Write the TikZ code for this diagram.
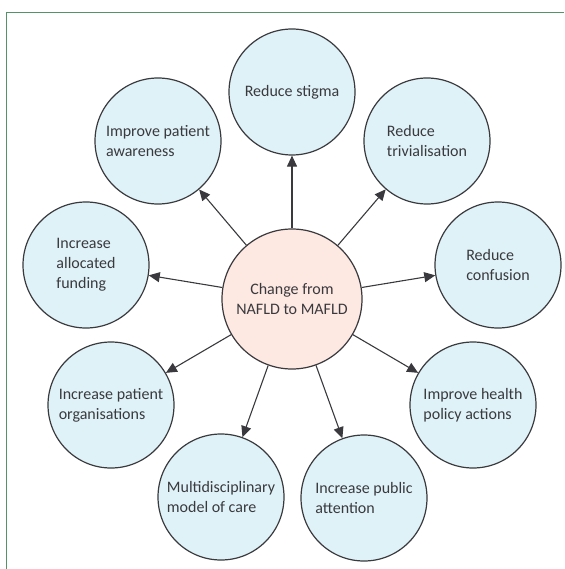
\documentclass[tikz,border=0pt]{standalone}
\usepackage{fontspec}
\setmainfont{Carlito}
\usetikzlibrary{arrows.meta,positioning}
\definecolor{framegreen}{RGB}{84,146,106}
\definecolor{goalfill}{RGB}{223,242,247}
\definecolor{changefill}{RGB}{253,232,226}
\definecolor{inkgrey}{RGB}{58,58,62}

\begin{document}
\begin{tikzpicture}[x=1pt,y=-1pt,
  goal/.style={circle, draw=inkgrey, line width=1.2pt, fill=goalfill,
    minimum size=126pt, inner sep=0pt, align=left, text=inkgrey,
    font=\fontsize{16}{20}\selectfont},
  change/.style={goal, fill=changefill, minimum size=140pt, align=center},
  link/.style={draw=inkgrey, line width=1.1pt,
    -{Triangle[length=11pt,width=10pt]}}]
  \useasboundingbox (0,0) rectangle (564,569);
  % frame
  \draw[framegreen, line width=1pt] (6,569) -- (6,13) -- (564,13);
  % centre
  \node[change] (change) at (292,299) {Change from\\NAFLD to MAFLD};
  % goals, clockwise from the top
  \node[goal] (stigma) at (292,92) {Reduce stigma};
  \node[goal] (trivial) at (427,141) {Reduce\\trivialisation};
  \node[goal] (confusion) at (498,265) {Reduce\\confusion};
  \node[goal] (policy) at (473,405) {Improve health\\policy actions};
  \node[goal] (public) at (364,498) {Increase public\\attention};
  \node[goal] (multi) at (221,497) {Multidisciplinary\\model of care};
  \node[goal] (patorg) at (111,405) {Increase patient\\organisations};
  \node[goal] (funding) at (86,265) {Increase\\allocated\\funding};
  \node[goal] (aware) at (158,141) {Improve patient\\awareness};
  % arrows
  \foreach \g in {stigma,trivial,confusion,policy,public,multi,patorg,funding,aware}
    \draw[link] (change) -- (\g);
\end{tikzpicture}
\end{document}
